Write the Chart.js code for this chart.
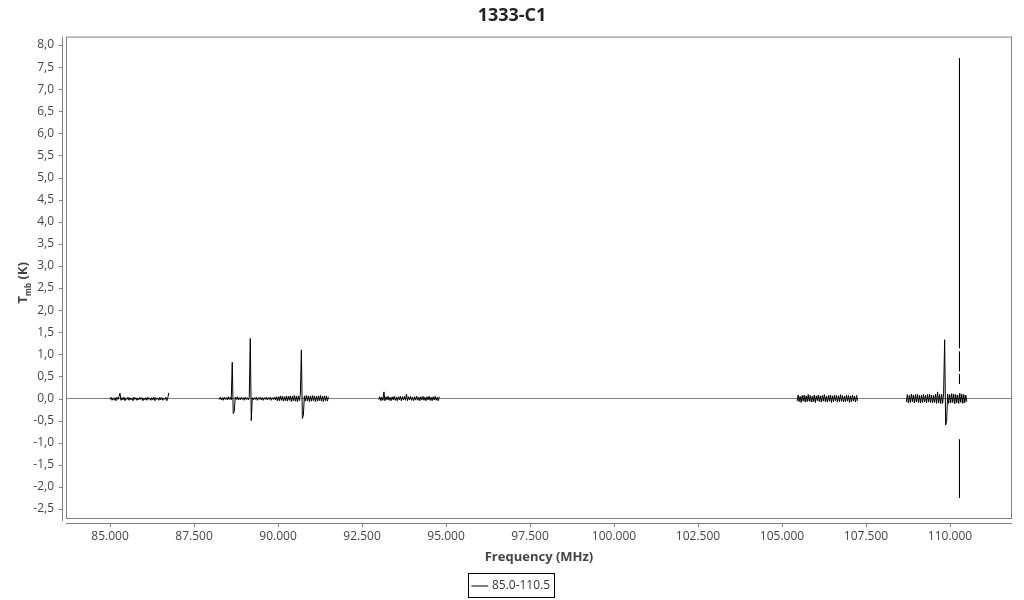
<!DOCTYPE html>
<html>
<head>
<meta charset="utf-8">
<title>1333-C1</title>
<script src="https://cdn.jsdelivr.net/npm/chart.js@4.4.1/dist/chart.umd.min.js"></script>
<style>
  html, body { margin: 0; padding: 0; background: #fff; }
  #wrap { width: 1024px; height: 600px; }
</style>
</head>
<body>
<div id="wrap"><canvas id="spectrum"></canvas></div>
<script>
// tick labels
const xTicks = [85000, 87500, 90000, 92500, 95000, 97500, 100000, 102500, 105000, 107500, 110000];
const yTicks = [-2.5, -2.0, -1.5, -1.0, -0.5, 0.0, 0.5, 1.0, 1.5, 2.0, 2.5, 3.0, 3.5, 4.0, 4.5, 5.0, 5.5, 6.0, 6.5, 7.0, 7.5, 8.0];

// frequency coverage of each sub-band (MHz)
const bandStarts = [85000, 88250, 93000, 105450, 108700];
const bandEnds   = [86750, 91500, 94800, 107250, 110500];

// Tmb values (K) per sub-band
const band1 = [
  -0.02, 0.03, -0.04, 0.01, -0.03, 0.02, -0.05, 0.03, -0.02, 0.04,
  0.12, -0.04, 0.02, -0.03, 0.03, -0.05, 0.01, -0.02, 0.03, -0.04,
  0.02, -0.03, 0.01, -0.05, 0.03, -0.02, 0.02, -0.04, 0.01, -0.03,
  0.03, -0.02, 0.02, -0.05, 0.01, -0.03, 0.02, -0.04, 0.03, -0.02,
  0.01, -0.04, 0.02, -0.03, 0.03, -0.05, 0.02, -0.02, 0.01, -0.04,
  0.03, -0.03, 0.02, -0.04, 0.01, -0.02, 0.03, -0.05, 0.02, 0.13
];
const band2 = [
  -0.02, 0.03, -0.03, 0.02, -0.04, 0.03, -0.02, 0.02, -0.03, 0.04,
  -0.02, 0.03, -0.03, 0.82, -0.34, -0.30, 0.03, -0.02, 0.04, -0.03,
  0.02, -0.03, 0.03, -0.02, 0.02, -0.04, 0.03, -0.02, 0.02, -0.03,
  0.03, 1.36, -0.50, 0.02, -0.03, 0.02, -0.02, 0.03, -0.04, 0.02,
  -0.02, 0.03, -0.03, 0.02, -0.04, 0.02, -0.02, 0.03, -0.03, 0.02,
  -0.02, 0.03, -0.04, 0.02, -0.02, 0.03, -0.03, 0.04, -0.05, 0.04,
  -0.05, 0.06, -0.04, 0.05, -0.06, 0.04, -0.05, 0.06, -0.06, 0.05,
  -0.04, 0.06, -0.07, 0.05, -0.05, 0.07, -0.06, 0.05, -0.07, 0.06,
  -0.05, 0.10, 1.10, -0.45, -0.38, 0.06, -0.06, 0.07, -0.05, 0.06,
  -0.07, 0.05, -0.06, 0.07, -0.05, 0.06, -0.07, 0.05, -0.06, 0.06,
  -0.05, 0.07, -0.06, 0.05, -0.07, 0.06, -0.05, 0.06, -0.06, 0.04
];
const band3 = [
  -0.03, 0.04, -0.05, 0.03, -0.04, 0.15, -0.05, 0.04, -0.03, 0.05,
  -0.04, 0.03, -0.05, 0.04, -0.03, 0.05, -0.04, 0.03, -0.05, 0.04,
  -0.03, 0.05, -0.05, 0.04, -0.03, 0.05, -0.04, 0.10, -0.05, 0.04,
  -0.03, 0.05, -0.04, 0.03, -0.05, 0.04, -0.03, 0.05, -0.04, 0.03,
  -0.05, 0.04, -0.03, 0.05, -0.04, 0.03, -0.05, 0.04, -0.03, 0.05,
  -0.04, 0.03, -0.05, 0.04, -0.03, 0.05, -0.04, 0.03, -0.05, 0.04
];
const band4 = [
  -0.06, 0.08, -0.07, 0.05, -0.09, 0.07, -0.06, 0.08, -0.08, 0.06,
  -0.07, 0.09, -0.06, 0.07, -0.08, 0.05, -0.07, 0.08, -0.09, 0.06,
  -0.05, 0.08, -0.07, 0.06, -0.08, 0.07, -0.06, 0.09, -0.07, 0.05,
  -0.08, 0.07, -0.06, 0.08, -0.09, 0.06, -0.07, 0.08, -0.05, 0.07,
  -0.08, 0.06, -0.07, 0.09, -0.06, 0.07, -0.08, 0.05, -0.07, 0.08,
  -0.06, 0.07, -0.09, 0.06, -0.07, 0.08, -0.06, 0.05, -0.08, 0.07,
  -0.05
];
const band5 = [
  -0.08, 0.09, -0.10, 0.07, -0.09, 0.10, -0.07, 0.08, -0.10, 0.09,
  -0.08, 0.10, -0.09, 0.07, -0.10, 0.08, -0.09, 0.10, -0.08, 0.07,
  -0.10, 0.09, -0.08, 0.10, -0.09, 0.08, -0.10, 0.07, -0.09, 0.10,
  -0.11, 0.15, -0.10, 0.09, -0.12, 0.10, -0.11, 0.12, 1.33, -0.60,
  -0.52, 0.10, -0.11, 0.09, -0.10, 0.11, -0.09, 0.10, -0.12, 0.09,
  -0.10, 0.08, -0.11, 0.12, -0.09, 0.10, -0.11, 0.09, -0.10, 0.08,
  -0.07
];
const bands = [band1, band2, band3, band4, band5];

// the strong 13CO line, drawn as broken pieces as in the plot
const co13Freq = 110282;
const co13Pieces = [[7.70, 1.14], [1.06, 0.62], [0.55, 0.33], [-0.93, -2.25]];

// one point per channel, null between sub-bands so they are not joined
const points = [];
bands.forEach((vals, b) => {
  const step = (bandEnds[b] - bandStarts[b]) / (vals.length - 1);
  vals.forEach((v, i) => points.push({ x: bandStarts[b] + i * step, y: v }));
  points.push({ x: bandEnds[b] + 1, y: null });
});
const co13Points = [];
co13Pieces.forEach(([top, bottom]) => {
  co13Points.push({ x: co13Freq, y: top }, { x: co13Freq, y: bottom }, { x: co13Freq, y: null });
});

const fmtX = v => String(Math.round(v)).replace(/\B(?=(\d{3})+(?!\d))/g, '.');
const fmtY = v => v.toFixed(1).replace('.', ',');

// box, offset axis lines, legend border and the subscripted y title
const framePlugin = {
  id: 'frame',
  afterDraw(chart) {
    const { ctx, chartArea: a, scales: { x, y } } = chart;
    ctx.save();
    ctx.strokeStyle = '#808080';
    ctx.lineWidth = 1;
    ctx.strokeRect(a.left + 0.5, a.top + 0.5, a.width - 1, a.height - 1);

    ctx.beginPath();
    ctx.moveTo(a.left - 3.5, a.top);
    ctx.lineTo(a.left - 3.5, a.bottom + 2);
    yTicks.forEach(v => {
      const p = Math.round(y.getPixelForValue(v)) + 0.5;
      ctx.moveTo(a.left - 7, p);
      ctx.lineTo(a.left - 3.5, p);
    });
    ctx.moveTo(a.left, a.bottom + 4.5);
    ctx.lineTo(a.right, a.bottom + 4.5);
    xTicks.forEach(v => {
      const p = Math.round(x.getPixelForValue(v)) + 0.5;
      ctx.moveTo(p, a.bottom + 4.5);
      ctx.lineTo(p, a.bottom + 8);
    });
    ctx.stroke();

    const hb = chart.legend.legendHitBoxes[0];
    if (hb) {
      ctx.strokeStyle = '#000';
      ctx.strokeRect(Math.round(hb.left) - 5.5, Math.round(hb.top) - 6.5, Math.round(hb.width) + 10, Math.round(hb.height) + 12);
    }

    // y axis title: T_mb (K)
    const big = 'bold 13px "Open Sans"';
    const small = 'bold 8px "Open Sans"';
    ctx.font = big;
    const wT = ctx.measureText('T').width;
    const wK = ctx.measureText(' (K)').width;
    ctx.font = small;
    const wMb = ctx.measureText('mb').width;
    const total = wT + wMb + wK;
    ctx.translate(27, (a.top + a.bottom) / 2 + 5);
    ctx.rotate(-Math.PI / 2);
    ctx.fillStyle = '#444';
    ctx.textBaseline = 'alphabetic';
    let cx = -total / 2;
    ctx.font = big;
    ctx.fillText('T', cx, 0);
    cx += wT;
    ctx.font = small;
    ctx.fillText('mb', cx, 4);
    cx += wMb;
    ctx.font = big;
    ctx.fillText(' (K)', cx, 0);
    ctx.restore();
  }
};

new Chart(document.getElementById('spectrum'), {
  type: 'line',
  data: {
    datasets: [{
      label: '85.0-110.5',
      data: points,
      borderColor: '#000',
      backgroundColor: '#000',
      borderWidth: 1,
      pointRadius: 0,
      tension: 0,
      spanGaps: false
    }, {
      label: '13CO',
      data: co13Points,
      borderColor: '#000',
      borderWidth: 1,
      pointRadius: 0,
      spanGaps: false
    }]
  },
  options: {
    responsive: true,
    maintainAspectRatio: false,
    animation: false,
    layout: { padding: { left: 0, right: 0, top: 0, bottom: -2 } },
    plugins: {
      title: {
        display: true,
        text: '1333-C1',
        color: '#222',
        font: { family: 'Open Sans', size: 18, weight: 'bold' },
        padding: { top: 5, bottom: 10 }
      },
      legend: {
        position: 'bottom',
        labels: {
          usePointStyle: true,
          pointStyle: 'line',
          color: '#333',
          font: { family: 'Open Sans', size: 12 },
          padding: 8,
          filter: item => item.datasetIndex === 0
        }
      },
      tooltip: { enabled: false }
    },
    scales: {
      x: {
        type: 'linear',
        min: 83690,
        max: 111845,
        afterBuildTicks: s => { s.ticks = xTicks.map(v => ({ value: v })); },
        afterFit: s => { s.height = 53; },
        border: { display: false },
        grid: { display: false },
        ticks: {
          color: '#444',
          font: { family: 'Open Sans', size: 12 },
          padding: 2,
          maxRotation: 0,
          callback: v => fmtX(v)
        },
        title: {
          display: true,
          text: 'Frequency (MHz)',
          color: '#444',
          font: { family: 'Open Sans', size: 13, weight: 'bold' },
          padding: { top: 2, bottom: 7 }
        }
      },
      y: {
        type: 'linear',
        min: -2.726,
        max: 8.19,
        afterBuildTicks: s => { s.ticks = yTicks.map(v => ({ value: v })); },
        afterFit: s => { s.width = 66; },
        border: { display: false },
        grid: {
          drawTicks: false,
          color: c => (c.tick && c.tick.value === 0 ? '#808080' : 'rgba(0,0,0,0)')
        },
        ticks: {
          color: '#444',
          font: { family: 'Open Sans', size: 12 },
          padding: 12,
          callback: v => fmtY(v)
        }
      },
      yRight: {
        type: 'linear',
        position: 'right',
        afterFit: s => { s.width = 12; },
        border: { display: false },
        grid: { display: false },
        ticks: { display: false }
      }
    }
  },
  plugins: [framePlugin]
});
</script>
</body>
</html>
